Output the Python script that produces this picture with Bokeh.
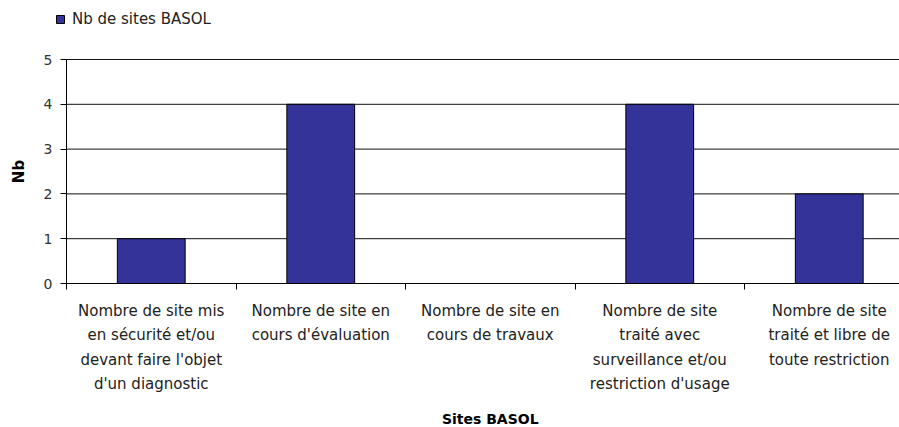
from bokeh.plotting import figure
from bokeh.models import Range1d, FixedTicker, Legend, LegendItem
from bokeh.embed import file_html
from bokeh.resources import INLINE

# ---- data ----
categories = [
    ["Nombre de site mis", "en sécurité et/ou", "devant faire l'objet", "d'un diagnostic"],
    ["Nombre de site en", "cours d'évaluation"],
    ["Nombre de site en", "cours de travaux"],
    ["Nombre de site", "traité avec", "surveillance et/ou", "restriction d'usage"],
    ["Nombre de site", "traité et libre de", "toute restriction"],
]
values = [1, 4, 0, 4, 2]
series_name = "Nb de sites BASOL"
x_title = "Sites BASOL"
y_title = "Nb"
y_ticks = [0, 1, 2, 3, 4, 5]

FONT = "DejaVu Sans"
BAR = "#333399"
TXT = "#222222"

W, H = 899, 427
LEFT, TOP, BOTTOM = 66, 59, 283        # pixel positions of the plot box
CAT_W = 169.5                           # pixels per category
PPU = (BOTTOM - TOP) / max(y_ticks)     # pixels per y unit

n = len(categories)
centers = [i + 0.5 for i in range(n)]

x_range = Range1d(-LEFT / CAT_W, (W - LEFT) / CAT_W)
y_range = Range1d(-(H - BOTTOM) / PPU, max(y_ticks) + TOP / PPU)

p = figure(
    width=W, height=H,
    output_backend="svg", toolbar_location=None,
    x_range=x_range, y_range=y_range,
    min_border=0,
)
p.outline_line_color = None
p.background_fill_color = "white"
p.grid.grid_line_color = None

# horizontal grid lines from the y axis to the right edge
p.segment(x0=[0] * len(y_ticks), x1=[x_range.end] * len(y_ticks),
          y0=y_ticks, y1=y_ticks, line_color="#111111", line_width=1)

r = p.vbar(x=centers, top=values, width=0.4, fill_color=BAR,
           line_color="black", line_width=1)

# y axis
ya = p.yaxis[0]
ya.fixed_location = 0
ya.bounds = (0, max(y_ticks))
ya.ticker = FixedTicker(ticks=y_ticks)
ya.minor_tick_line_color = None
ya.major_tick_in = 0
ya.major_tick_out = 6
ya.major_label_standoff = 8
ya.major_label_text_font = FONT
ya.major_label_text_font_size = "14px"
ya.major_label_text_color = "#333333"
ya.axis_line_color = "black"
ya.major_tick_line_color = "black"
ya.axis_label = y_title
ya.axis_label_text_font = FONT
ya.axis_label_text_font_size = "15px"
ya.axis_label_text_font_style = "bold"
ya.axis_label_text_color = "black"
ya.axis_label_standoff = 13

# x axis: ticks at category boundaries
xa = p.xaxis[0]
xa.fixed_location = 0
xa.bounds = (0, n)
xa.ticker = FixedTicker(ticks=list(range(n + 1)))
xa.major_label_overrides = {i: "" for i in range(n + 1)}
xa.minor_tick_line_color = None
xa.major_tick_in = 0
xa.major_tick_out = 6
xa.axis_line_color = "black"
xa.major_tick_line_color = "black"

# category labels (multi-line)
first_off = 27
line_gap = 24.5
lx, ly, lt = [], [], []
for cx, lines in zip(centers, categories):
    for j, t in enumerate(lines):
        lx.append(cx)
        ly.append(-(first_off + j * line_gap) / PPU)
        lt.append(t)
p.text(x=lx, y=ly, text=lt, text_align="center", text_baseline="middle",
       text_font={"value": FONT}, text_font_size="15px", text_color=TXT)

# x title
p.text(x=[n / 2], y=[-(135) / PPU], text=[x_title],
       text_align="center", text_baseline="middle",
       text_font={"value": FONT}, text_font_size="14px",
       text_font_style="bold", text_color="black")

legend = Legend(items=[LegendItem(label=series_name, renderers=[r])],
                location=(55, H - 28), orientation="horizontal",
                padding=0, margin=0, spacing=0,
                glyph_width=10, glyph_height=10, label_standoff=7,
                border_line_color=None, background_fill_alpha=0,
                label_text_font=FONT, label_text_font_size="15px",
                label_text_color=TXT)
p.add_layout(legend, "center")

open("out.html", "w").write(file_html(p, INLINE))
